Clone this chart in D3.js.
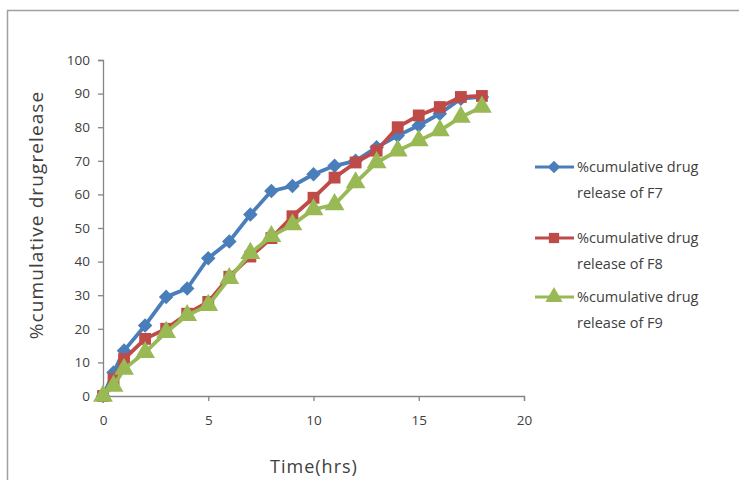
<!DOCTYPE html>
<html><head><meta charset="utf-8">
<script src="https://cdn.jsdelivr.net/npm/d3@7"></script>
<style>body{margin:0;background:#fff;} svg{display:block;}</style>
</head><body>
<svg id="c" width="739" height="480"></svg>
<script>
const times = [0, 0.5, 1, 2, 3, 4, 5, 6, 7, 8, 9, 10, 11, 12, 13, 14, 15, 16, 17, 18];
const f7 = [0, 7, 13.5, 21, 29.5, 32, 41, 46, 54, 61, 62.5, 66, 68.5, 70, 74, 77.5, 80.5, 84, 88.5, 89];
const f8 = [0, 5, 11, 17, 20, 24.5, 28, 35.5, 41.5, 47, 53.5, 59, 65, 69.5, 73, 80, 83.5, 86, 89, 89.3];
const f9 = [0, 3, 8, 13, 19, 24, 27, 35, 42.5, 47.5, 51, 55.5, 57, 63.5, 69.5, 73, 76, 79, 83, 86];
const seriesNames = ["%cumulative drug release of F7", "%cumulative drug release of F8", "%cumulative drug release of F9"];
const colors = ["#4a7ebb", "#be4b48", "#98b954"];
const xTicks = [0, 5, 10, 15, 20];
const yTicks = [0, 10, 20, 30, 40, 50, 60, 70, 80, 90, 100];

const svg = d3.select("#c");
const font = "'Open Sans', 'Noto Sans', sans-serif";
const textCol = "#404040";
const axisCol = "#868686";

svg.append("rect").attr("x", 7.5).attr("y", 10.5).attr("width", 800).attr("height", 500)
  .attr("fill", "none").attr("stroke", "#a0a0a0").attr("stroke-width", 1.5);

const x = d3.scaleLinear().domain([0, 20]).range([103, 524]);
const y = d3.scaleLinear().domain([0, 100]).range([396, 60]);

// y axis
const ya = svg.append("g").attr("transform", "translate(103,0)")
  .call(d3.axisLeft(y).tickValues(yTicks).tickSize(5).tickPadding(8));
ya.select(".domain").attr("stroke", axisCol).attr("stroke-width", 1.3);
ya.selectAll(".tick line").attr("stroke", axisCol).attr("stroke-width", 1.3);
ya.selectAll(".tick text").attr("fill", textCol).attr("font-size", 13.5).attr("font-family", font);

// x axis
const xa = svg.append("g").attr("transform", "translate(0,396)")
  .call(d3.axisBottom(x).tickValues(xTicks).tickSize(5).tickPadding(14));
xa.select(".domain").attr("stroke", axisCol).attr("stroke-width", 1.3);
xa.selectAll(".tick line").attr("stroke", axisCol).attr("stroke-width", 1.3);
xa.selectAll(".tick text").attr("fill", textCol).attr("font-size", 13.5).attr("font-family", font);

svg.append("text").attr("x", 314).attr("y", 473).attr("text-anchor", "middle")
  .attr("fill", textCol).attr("font-size", 18).attr("letter-spacing", 1).attr("font-family", font).text("Time(hrs)");
svg.append("text").attr("transform", "translate(43,215) rotate(-90)").attr("text-anchor", "middle")
  .attr("fill", textCol).attr("font-size", 19).attr("letter-spacing", 1.1).attr("font-family", font).text("%cumulative drugrelease");

const data = [f7, f8, f9];
const symbols = [d3.symbolDiamond2, d3.symbolSquare, d3.symbolTriangle];
const symSizes = [135, 140, 170];
const line = d3.line().x((d, i) => x(times[i])).y(d => y(d));

data.forEach((vals, si) => {
  const g = svg.append("g");
  g.append("path").datum(vals).attr("d", line).attr("fill", "none")
    .attr("stroke", colors[si]).attr("stroke-width", 3.8).attr("stroke-linejoin", "round");
  g.selectAll("path.m").data(vals).join("path").attr("class", "m")
    .attr("transform", (d, i) => `translate(${x(times[i])},${y(d)})`)
    .attr("d", d3.symbol().type(symbols[si]).size(symSizes[si])())
    .attr("fill", colors[si]);
});

// legend
const legY = [167, 238, 297];
seriesNames.forEach((name, si) => {
  const g = svg.append("g").attr("transform", `translate(0,${legY[si]})`);
  g.append("line").attr("x1", 535).attr("x2", 574).attr("y1", 0).attr("y2", 0)
    .attr("stroke", colors[si]).attr("stroke-width", 3);
  g.append("path").attr("transform", "translate(554,0)")
    .attr("d", d3.symbol().type(symbols[si]).size(symSizes[si] * 0.75)()).attr("fill", colors[si]);
  const words = name.split(" ");
  const l1 = words.slice(0, 2).join(" ");
  const l2 = words.slice(2).join(" ");
  g.append("text").attr("x", 577).attr("y", 5).attr("fill", textCol).attr("font-size", 14.5)
    .attr("font-family", font).text(l1);
  g.append("text").attr("x", 577).attr("y", 31).attr("fill", textCol).attr("font-size", 14.5)
    .attr("font-family", font).text(l2);
});
</script>
</body></html>
